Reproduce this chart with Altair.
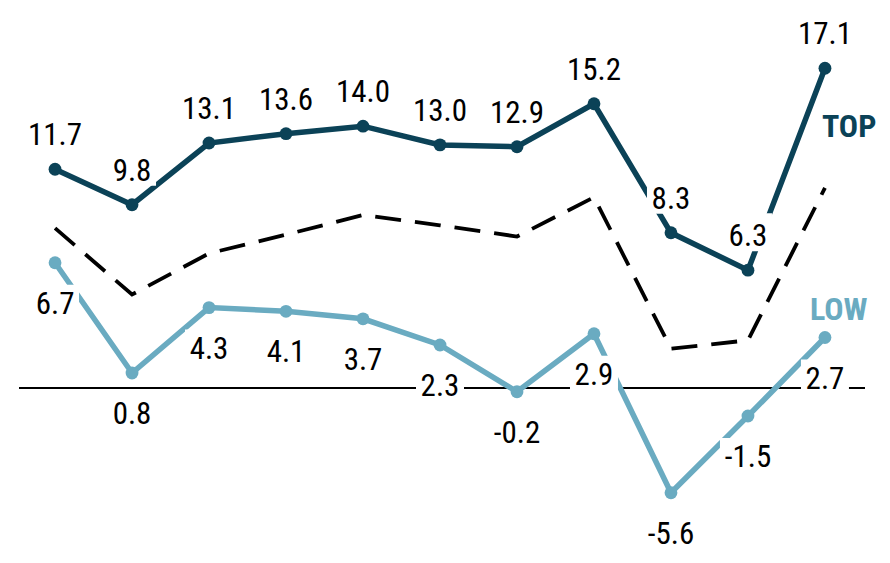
import altair as alt
import pandas as pd

idx = list(range(11))
top_vals = [11.7, 9.8, 13.1, 13.6, 14.0, 13.0, 12.9, 15.2, 8.3, 6.3, 17.1]
low_vals = [6.7, 0.8, 4.3, 4.1, 3.7, 2.3, -0.2, 2.9, -5.6, -1.5, 2.7]
mid_vals = [8.55, 5.0, 7.2, 8.2, 9.25, 8.7, 8.1, 10.2, 2.1, 2.55, 10.7]
series_names = ["TOP", "LOW"]

TOP_C = "#0b4257"
LOW_C = "#6aabc1"
FONT = "Liberation Sans Narrow, Arial Narrow, Roboto Condensed, Liberation Sans"

top_df = pd.DataFrame({"i": idx, "v": top_vals, "label": [f"{v:.1f}" for v in top_vals]})
low_df = pd.DataFrame({"i": idx, "v": low_vals, "label": [f"{v:.1f}" for v in low_vals]})
mid_df = pd.DataFrame({"i": idx, "v": mid_vals})
zero_df = pd.DataFrame({"z": [0]})

xs = alt.Scale(domain=[-0.468, 10.52], nice=False, zero=False)
ys = alt.Scale(domain=[-8, 20], nice=False, zero=False)
X = alt.X("i:Q", scale=xs, axis=None)
Y = alt.Y("v:Q", scale=ys, axis=None)

zero = alt.Chart(zero_df).mark_rule(color="black", strokeWidth=2).encode(
    y=alt.Y("z:Q", scale=ys, axis=None)
)

mid = alt.Chart(mid_df).mark_line(color="black", strokeWidth=3.8, strokeDash=[26, 14]).encode(x=X, y=Y)

def series(df, color, box_top, box_bot, dy):
    line = alt.Chart(df).mark_line(color=color, strokeWidth=5.5).encode(x=X, y=Y)
    pts = alt.Chart(df).mark_point(filled=True, opacity=1, color=color, size=165).encode(x=X, y=Y)
    box4 = alt.Chart(df).transform_filter("length(datum.label) >= 4").mark_point(
        filled=True, opacity=1, color="white", strokeWidth=0, size=4,
        shape=f"M-28,{box_top}L28,{box_top}L28,{box_bot}L-28,{box_bot}Z",
    ).encode(x=X, y=Y)
    box3 = alt.Chart(df).transform_filter("length(datum.label) < 4").mark_point(
        filled=True, opacity=1, color="white", strokeWidth=0, size=4,
        shape=f"M-24,{box_top}L24,{box_top}L24,{box_bot}L-24,{box_bot}Z",
    ).encode(x=X, y=Y)
    txt = alt.Chart(df).mark_text(
        font=FONT, fontSize=31, color="black", align="center", baseline="alphabetic", dy=dy
    ).encode(x=X, y=Y, text="label:N")
    return [line, pts, box4, box3, txt]

top_layers = series(top_df, TOP_C, -57, -19, -24)
low_layers = series(low_df, LOW_C, 22, 59, 51)

top_name = alt.Chart(top_df.tail(1).assign(name=series_names[0])).mark_text(
    font=FONT, fontSize=32, fontWeight="bold", color=TOP_C, align="left", baseline="alphabetic",
    dx=-3, dy=69,
).encode(x=X, y=Y, text="name:N")
low_name = alt.Chart(low_df.tail(1).assign(name=series_names[1])).mark_text(
    font=FONT, fontSize=32, fontWeight="bold", color=LOW_C, align="left", baseline="alphabetic",
    dx=-15, dy=-18,
).encode(x=X, y=Y, text="name:N")

chart = alt.layer(
    zero, mid, *top_layers, *low_layers, top_name, low_name
).properties(
    width=846,
    height=523.6,
    padding={"left": 11, "top": 6, "right": 15, "bottom": 20},
    autosize=alt.AutoSizeParams(type="none"),
).configure_view(stroke=None)

chart.save("out.html", embed_options={"renderer": "svg", "actions": False})
